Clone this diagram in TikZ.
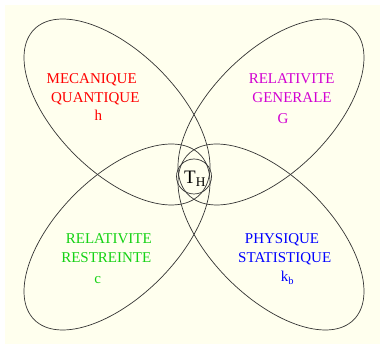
\documentclass[tikz,border=0pt]{standalone}
\usepackage{fontspec}
\setmainfont{Liberation Serif}
\usetikzlibrary{positioning}
\definecolor{ivoire}{RGB}{255,255,238}
\definecolor{mqcol}{RGB}{255,0,0}
\definecolor{grcol}{RGB}{210,0,210}
\definecolor{rrcol}{RGB}{20,210,20}
\definecolor{pscol}{RGB}{0,0,255}

\begin{document}
\begin{tikzpicture}[x=1pt,y=-1pt,
  bulle/.style={draw=black!80,line width=0.7pt},
  titre/.style={font=\fontsize{15}{19}\selectfont,anchor=base}]
  \useasboundingbox (0,0) rectangle (380,344);
  \fill[ivoire] (5,5) rectangle (380,344);

  % les quatre domaines
  \draw[bulle,rotate around={-45:(117,112)}] (117,112) ellipse (117pt and 60pt);
  \draw[bulle,rotate around={45:(271,112)}] (271,112) ellipse (117pt and 60pt);
  \draw[bulle,rotate around={45:(117,237)}] (117,237) ellipse (117pt and 60pt);
  \draw[bulle,rotate around={-45:(271,237)}] (271,237) ellipse (117pt and 60pt);

  % centre
  \node[bulle,circle,minimum size=35pt,inner sep=0pt] (th) at (194,176.5) {};
  \node[font=\fontsize{19}{22}\selectfont,anchor=base] (thtxt) at (195,183.3) {T\textsubscript{H}};

  % mecanique quantique
  \node[titre,mqcol] (mq1) at (91.7,83.3) {MECANIQUE};
  \node[titre,mqcol] (mq2) at (95.3,102.5) {QUANTIQUE};
  \node[titre,mqcol] (mq3) at (98.3,121) {h};
  % relativite generale
  \node[titre,grcol] (gr1) at (291.7,83.3) {RELATIVITE};
  \node[titre,grcol] (gr2) at (292,102.3) {GENERALE};
  \node[titre,grcol] (gr3) at (283,124) {G};
  % relativite restreinte
  \node[titre,rrcol] (rr1) at (108.8,244) {RELATIVITE};
  \node[titre,rrcol] (rr2) at (106.3,262.7) {RESTREINTE};
  \node[titre,rrcol] (rr3) at (97.7,284) {c};
  % physique statistique
  \node[titre,pscol] (ps1) at (282,243.3) {PHYSIQUE};
  \node[titre,pscol] (ps2) at (284.7,262.7) {STATISTIQUE};
  \node[titre,pscol] (ps3) at (287.5,281.7) {k\textsubscript{b}};
\end{tikzpicture}
\end{document}
